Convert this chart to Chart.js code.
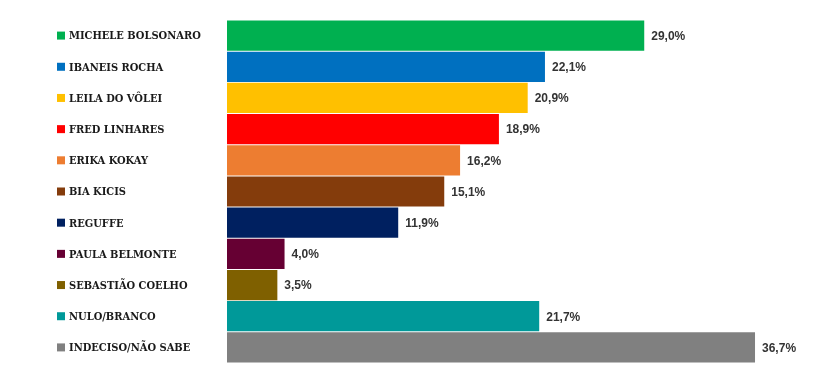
<!DOCTYPE html>
<html lang="pt-BR">
<head>
  <meta charset="UTF-8" />
  <title>Pesquisa DF</title>
  <script src="https://cdn.jsdelivr.net/npm/chart.js"></script>
  <style>
    body {
      margin: 0;
      padding: 0;
      background: #ffffff;
      overflow: hidden;
    }
    .wrap {
      width: 822px;
      height: 387px;
      position: relative;
    }
  </style>
</head>
<body>
  <div class="wrap">
    <canvas id="barChart"></canvas>
  </div>

  <script>
    const candidates = ['MICHELE BOLSONARO', 'IBANEIS ROCHA', 'LEILA DO VÔLEI', 'FRED LINHARES', 'ERIKA KOKAY',
      'BIA KICIS', 'REGUFFE', 'PAULA BELMONTE', 'SEBASTIÃO COELHO', 'NULO/BRANCO', 'INDECISO/NÃO SABE'];
    const percents = [29.0, 22.1, 20.9, 18.9, 16.2, 15.1, 11.9, 4.0, 3.5, 21.7, 36.7];
    const barColors = ['#00b050', '#0070c0', '#ffc000', '#ff0000', '#ed7d31', '#843c0c', '#002060',
      '#660033', '#7f6000', '#009999', '#808080'];

    // rótulos à esquerda (quadrado + nome) e valores à direita das barras
    const labelPlugin = {
      id: 'labelPlugin',
      afterDatasetsDraw(chart) {
        const ctx = chart.ctx;
        const yScale = chart.scales.y;
        const meta = chart.getDatasetMeta(0);
        ctx.save();
        ctx.textBaseline = 'middle';
        candidates.forEach((name, i) => {
          const y = yScale.getPixelForValue(i);
          ctx.fillStyle = barColors[i];
          ctx.fillRect(57, y - 4, 8, 8);
          ctx.fillStyle = '#1a1a1a';
          ctx.font = 'bold 11px "DejaVu Serif Condensed", "Liberation Serif"';
          ctx.textAlign = 'left';
          ctx.fillText(name, 69, y + 1);

          const bar = meta.data[i];
          ctx.fillStyle = '#333333';
          ctx.font = 'bold 12px "Liberation Sans"';
          ctx.fillText(percents[i].toFixed(1).replace('.', ',') + '%', bar.x + 7, y + 1);
        });
        ctx.restore();
      }
    };

    new Chart(document.getElementById('barChart').getContext('2d'), {
      type: 'bar',
      data: {
        labels: candidates,
        datasets: [{
          data: percents,
          backgroundColor: barColors,
          borderWidth: 0,
          barPercentage: 0.97,
          categoryPercentage: 1.0
        }]
      },
      options: {
        indexAxis: 'y',
        responsive: true,
        maintainAspectRatio: false,
        animation: false,
        layout: { padding: { left: 227, right: 19.5, top: 20, bottom: 24 } },
        plugins: {
          legend: { display: false },
          tooltip: { enabled: false }
        },
        scales: {
          x: { display: false, min: 0, max: 40 },
          y: { display: false }
        }
      },
      plugins: [labelPlugin]
    });
  </script>
</body>
</html>
